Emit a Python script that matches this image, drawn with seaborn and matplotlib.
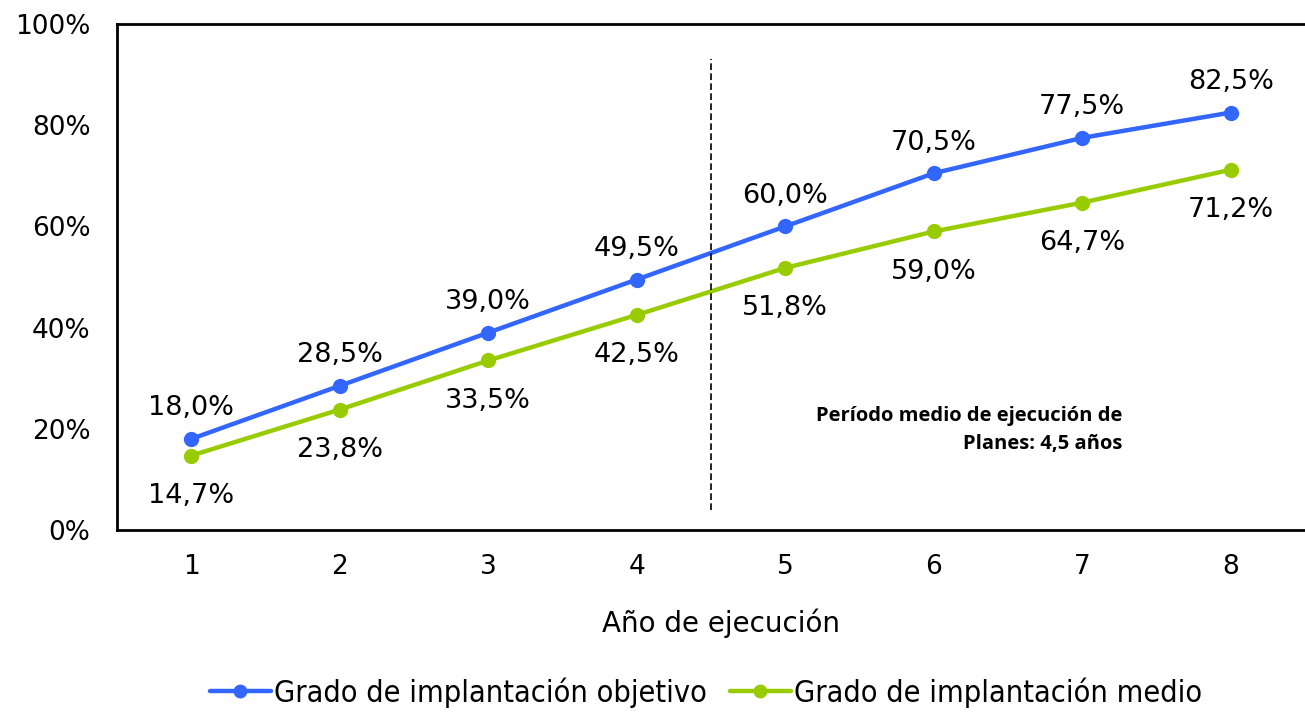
import pandas as pd
import numpy as np
import matplotlib.pyplot as plt
import seaborn as sns

# Data
years = [1, 2, 3, 4, 5, 6, 7, 8]
objetivo = [18.0, 28.5, 39.0, 49.5, 60.0, 70.5, 77.5, 82.5]
medio = [14.7, 23.8, 33.5, 42.5, 51.8, 59.0, 64.7, 71.2]
series_names = ['Grado de implantación objetivo', 'Grado de implantación medio']
colors = ['#3366FF', '#99CC00']

sns.set_style('white')
plt.rcParams['font.family'] = ['DejaVu Sans']
plt.rcParams['text.color'] = 'black'
plt.rcParams['axes.labelcolor'] = 'black'
plt.rcParams['xtick.color'] = 'black'
plt.rcParams['ytick.color'] = 'black'

df = pd.DataFrame({
    'year': years * 2,
    'value': objetivo + medio,
    'serie': [series_names[0]] * len(years) + [series_names[1]] * len(years),
})

fig = plt.figure(figsize=(13.05, 7.12), dpi=100)
ax = fig.add_axes([117 / 1305, 1 - 530 / 712, 1188 / 1305, 506 / 712])

sns.lineplot(data=df, x='year', y='value', hue='serie', palette=colors,
             marker='o', markersize=11, markeredgewidth=0, linewidth=3.2,
             ax=ax, legend=False)

# data labels
for x, v in zip(years, objetivo):
    ax.annotate(f'{v:.1f}%'.replace('.', ','), (x, v), xytext=(0, 17),
                textcoords='offset points', ha='center', va='baseline', fontsize=19.5)
for x, v in zip(years, medio):
    ax.annotate(f'{v:.1f}%'.replace('.', ','), (x, v), xytext=(0, -34),
                textcoords='offset points', ha='center', va='baseline', fontsize=19.5)

# mean execution period
ax.plot([4.5, 4.5], [4, 93], color='black', linestyle=(0, (4, 2)), linewidth=1.2)
ax.text(7.27, 19.8, 'Período medio de ejecución de\nPlanes: 4,5 años', ha='right', va='center',
        fontsize=14.5, fontweight='bold', linespacing=1.55,
        family=['Open Sans', 'DejaVu Sans'])

ax.set_xlim(0.5, 8.5)
ax.set_ylim(0, 100)
ax.set_xticks(years)
ax.set_xticks(np.arange(0.5, 9, 1), minor=True)
ax.set_yticks([0, 20, 40, 60, 80, 100])
ax.set_yticklabels([f'{t}%' for t in [0, 20, 40, 60, 80, 100]])
ax.tick_params(axis='x', which='major', length=0, labelsize=19, pad=17)
ax.tick_params(axis='x', which='minor', length=6, width=1.2, direction='out')
ax.tick_params(axis='y', length=6, width=1.2, direction='out', labelsize=19, pad=13)
ax.set_xlabel('Año de ejecución', fontsize=20, labelpad=22)
ax.xaxis.set_label_coords(0.508, -0.155)
ax.set_ylabel('')

for s in ['top', 'left', 'bottom']:
    ax.spines[s].set_visible(True)
    ax.spines[s].set_color('black')
    ax.spines[s].set_linewidth(2)
ax.spines['right'].set_visible(False)

handles = [plt.Line2D([], [], color=c, marker='o', markersize=10, linewidth=3.2, markeredgewidth=0)
           for c in colors]
fig.legend(handles, series_names, loc='center', bbox_to_anchor=(0.541, 0.027), ncol=2,
           frameon=False, handlelength=2.0, handletextpad=0.1, columnspacing=0.75,
           prop={'family': ['DejaVu Sans'], 'stretch': 'condensed', 'size': 22})

fig.savefig('out.png', dpi=100)
